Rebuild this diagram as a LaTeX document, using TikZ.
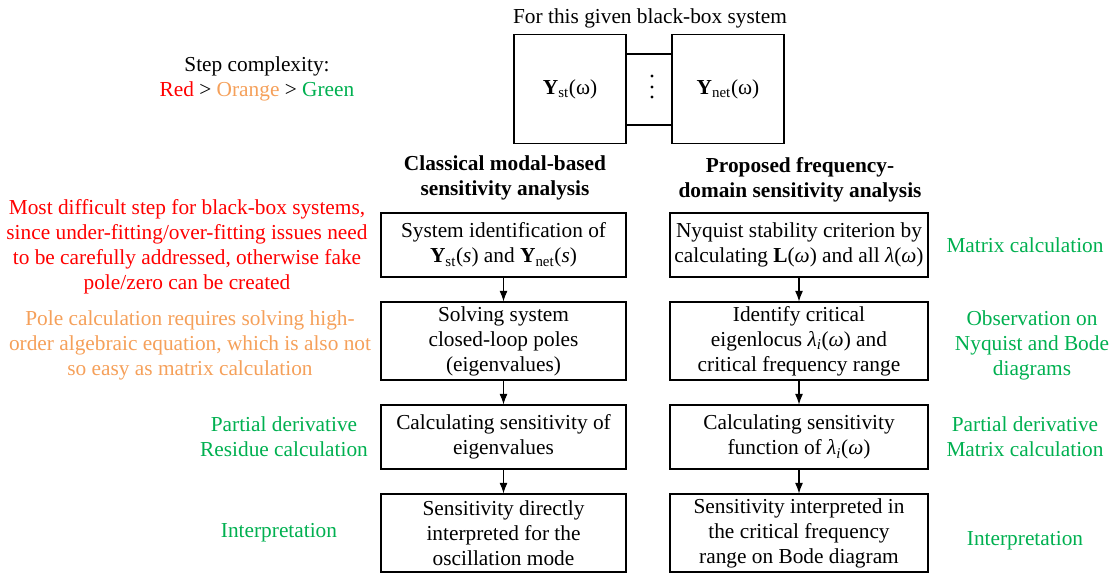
\documentclass[tikz,border=0pt]{standalone}
\usepackage{fontspec}
\setmainfont{Liberation Serif}
\usepackage{tikz}
\usetikzlibrary{arrows.meta,calc,positioning}
\definecolor{hardred}{RGB}{255,0,0}
\definecolor{midorange}{RGB}{245,160,90}
\definecolor{easygreen}{RGB}{0,176,80}

\begin{document}
\begin{tikzpicture}[>={Latex[length=8pt,width=6pt]}, x=0.75pt, y=0.75pt, node distance=72pt,
    font=\fontsize{16}{18.75}\selectfont,
    stepbox/.style={draw, thick, align=center, inner sep=2pt},
    leftbox/.style={stepbox, minimum width=183.75pt},
    rightbox/.style={stepbox, minimum width=193.5pt},
    note/.style={align=center, inner sep=0pt}]

    \useasboundingbox (0,0) rectangle (1109,-575);

    % black-box system
    \node[note] (title) at (650,-18) {For this given black-box system};
    \node[stepbox, minimum width=84pt, minimum height=81.75pt] (yst) at (570,-89) {\textbf{Y}\textsubscript{st}(ω)};
    \node[stepbox, minimum width=84pt, minimum height=81.75pt] (ynet) at (728,-89) {\textbf{Y}\textsubscript{net}(ω)};
    \draw[thick] ([yshift=26.25pt]yst.east) -- ([yshift=26.25pt]ynet.west);
    \draw[thick] ([yshift=-27pt]yst.east) -- ([yshift=-27pt]ynet.west);
    \foreach \dy in {-76,-87,-97}
        \fill (652,\dy) circle (1.3pt);

    \node[note] (cplx) at (257,-79) {Step complexity:\\\textcolor{hardred}{Red} > \textcolor{midorange}{Orange} > \textcolor{easygreen}{Green}};

    % headings
    \node[note, font=\fontsize{16}{18.75}\selectfont\bfseries] (headL) at (505,-178) {Classical modal-based\\sensitivity analysis};
    \node[note, font=\fontsize{16}{18.75}\selectfont\bfseries] (headR) at (800,-180) {Proposed frequency-\\domain sensitivity analysis};

    % classical
    \node[leftbox, minimum height=48pt] (cl-1) at (503.5,-245) {System identification of\\\textbf{Y}\textsubscript{st}(\textit{s}) and \textbf{Y}\textsubscript{net}(\textit{s})};
    \node[leftbox, minimum height=58.5pt] (cl-2) [below of=cl-1] {Solving system\\closed-loop poles\\(eigenvalues)};
    \node[leftbox, minimum height=48pt] (cl-3) [below of=cl-2] {Calculating sensitivity of\\eigenvalues};
    \node[leftbox, minimum height=58.5pt] (cl-4) [below of=cl-3] {Sensitivity directly\\interpreted for the\\oscillation mode};

    % proposed
    \node[rightbox, minimum height=48pt] (pr-1) at (799,-245) {Nyquist stability criterion by\\calculating \textbf{L}(\textit{ω}) and all \textit{λ}(\textit{ω})};
    \node[rightbox, minimum height=58.5pt] (pr-2) [below of=pr-1] {Identify critical\\eigenlocus \textit{λ}\textsubscript{\textit{i}}(\textit{ω}) and\\critical frequency range};
    \node[rightbox, minimum height=48pt] (pr-3) [below of=pr-2] {Calculating sensitivity\\function of \textit{λ}\textsubscript{\textit{i}}(\textit{ω})};
    \node[rightbox, minimum height=58.5pt] (pr-4) [below of=pr-3] {Sensitivity interpreted in\\the critical frequency\\range on Bode diagram};

    \draw[->, thick] (cl-1) -- (cl-2);
    \draw[->, thick] (cl-2) -- (cl-3);
    \draw[->, thick] (cl-3) -- (cl-4);
    \draw[->, thick] (pr-1) -- (pr-2);
    \draw[->, thick] (pr-2) -- (pr-3);
    \draw[->, thick] (pr-3) -- (pr-4);

    % complexity notes
    \node[note, text=hardred] (nl-1) at (187,-247) {Most difficult step for black-box systems,\\since under-fitting/over-fitting issues need\\to be carefully addressed, otherwise fake\\pole/zero can be created};
    \node[note, text=midorange] (nl-2) at (190,-345) {Pole calculation requires solving high-\\order algebraic equation, which is also not\\so easy as matrix calculation};
    \node[note, text=easygreen] (nl-3) at (284,-437) {Partial derivative\\Residue calculation};
    \node[note, text=easygreen] (nl-4) at (279,-533) {Interpretation};

    \node[note, text=easygreen] (nr-1) at (1025,-245) {Matrix calculation};
    \node[note, text=easygreen] (nr-2) at (1032,-345) {Observation on\\Nyquist and Bode\\diagrams};
    \node[note, text=easygreen] (nr-3) at (1025,-437) {Partial derivative\\Matrix calculation};
    \node[note, text=easygreen] (nr-4) at (1025,-541) {Interpretation};

\end{tikzpicture}
\end{document}
